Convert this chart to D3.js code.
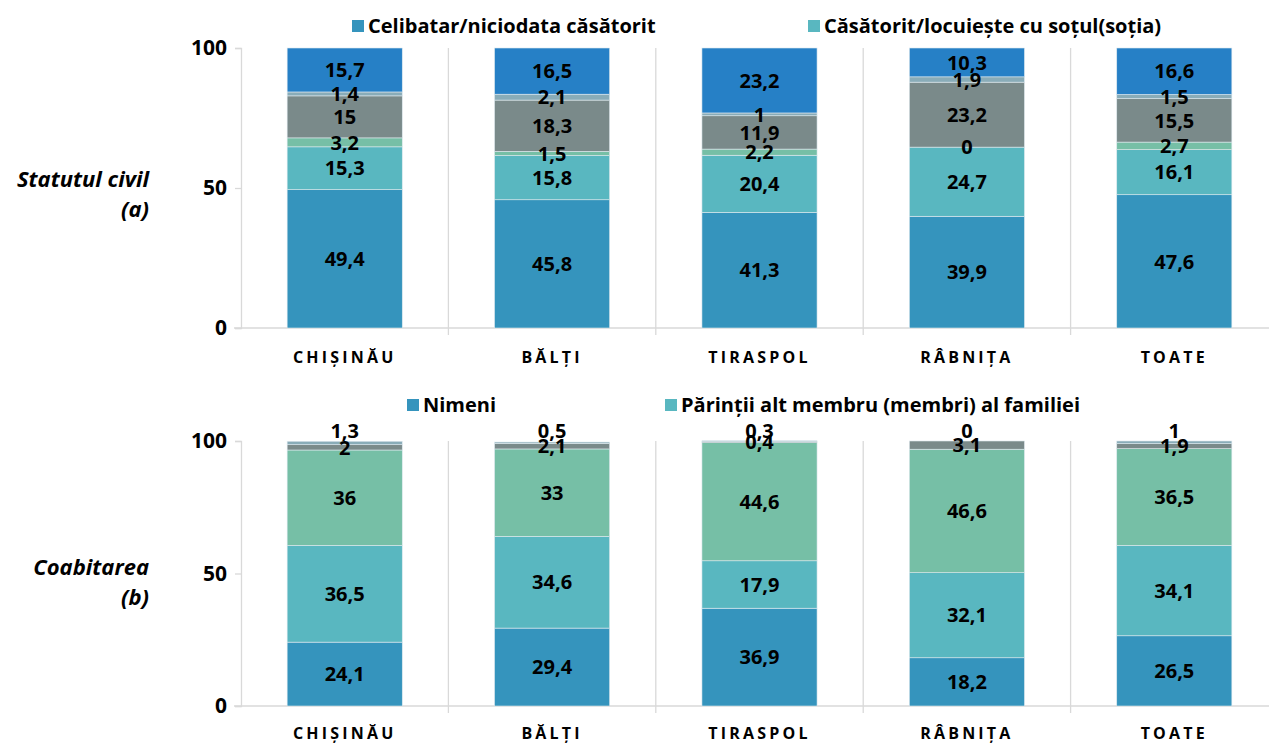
<!DOCTYPE html>
<html>
<head>
<meta charset="utf-8">
<script src="https://cdn.jsdelivr.net/npm/d3@7"></script>
<style>
  body { margin: 0; background: #fff; }
  svg text { font-family: "Open Sans", "Noto Sans", sans-serif; }
</style>
</head>
<body>
<div id="chart"></div>
<script>
const cities = ["CHIȘINĂU", "BĂLȚI", "TIRASPOL", "RÂBNIȚA", "TOATE"];
const yTicks = [0, 50, 100];

// Statutul civil (a), stacked bottom to top
const civilSeries = ["Celibatar/niciodata căsătorit", "Căsătorit/locuiește cu soțul(soția)", "c3", "c4", "c5", "c6"];
const celibatar  = [49.4, 45.8, 41.3, 39.9, 47.6];
const casatorit  = [15.3, 15.8, 20.4, 24.7, 16.1];
const civil3     = [3.2, 1.5, 2.2, 0, 2.7];
const civil4     = [15, 18.3, 11.9, 23.2, 15.5];
const civil5     = [1.4, 2.1, 1, 1.9, 1.5];
const civil6     = [15.7, 16.5, 23.2, 10.3, 16.6];

// Coabitarea (b), stacked bottom to top
const coabSeries = ["Nimeni", "Părinții alt membru (membri) al familiei", "b3", "b4", "b5"];
const nimeni     = [24.1, 29.4, 36.9, 18.2, 26.5];
const parintii   = [36.5, 34.6, 17.9, 32.1, 34.1];
const coab3      = [36, 33, 44.6, 46.6, 36.5];
const coab4      = [2, 2.1, 0.4, 3.1, 1.9];
const coab5      = [1.3, 0.5, 0.3, 0, 1];

const colors6 = ["#3594bd", "#59b7c0", "#76bfa6", "#7a8a8a", "#89acb8", "#2680c6"];
const colors5 = ["#3594bd", "#59b7c0", "#76bfa6", "#7a8a8a", "#89acb8"];

const W = 1269, H = 743;
const svg = d3.select("#chart").append("svg")
    .attr("width", W).attr("height", H);

const x = d3.scaleBand()
    .domain(cities)
    .range([241, 1278])
    .paddingInner(0.445)
    .paddingOuter(0.2225);

function panel(cfg) {
    const y = d3.scaleLinear().domain([0, 100]).range([cfg.y0, cfg.y1]);
    const g = svg.append("g");

    // category separators
    const bounds = cities.slice(1).map(c => x(c) - x.step() * x.paddingInner() / 2);
    g.selectAll("line.sep").data(bounds).enter().append("line")
        .attr("x1", d => d).attr("x2", d => d)
        .attr("y1", y(100)).attr("y2", y(0) + 7)
        .attr("stroke", "#d9d9d9").attr("stroke-width", 1.3);

    // y axis
    const yAxis = g.append("g")
        .attr("transform", "translate(241,0)")
        .call(d3.axisLeft(y).tickValues(yTicks).tickSize(6).tickPadding(8));
    yAxis.select(".domain").attr("stroke", "#d9d9d9").attr("stroke-width", 1.3);
    yAxis.selectAll(".tick line").attr("stroke", "#d9d9d9").attr("stroke-width", 1.3);
    yAxis.selectAll(".tick text")
        .attr("font-size", 21).attr("font-weight", 700).attr("fill", "#000")
        .style("font-family", "'Open Sans', sans-serif");

    // baseline
    g.append("line")
        .attr("x1", 234).attr("x2", W)
        .attr("y1", y(0)).attr("y2", y(0))
        .attr("stroke", "#d9d9d9").attr("stroke-width", 1.3);

    // stacked data
    const rows = cities.map((c, i) => {
        const r = { city: c };
        cfg.keys.forEach((k, j) => r[k] = cfg.values[j][i]);
        return r;
    });
    const stacked = d3.stack().keys(cfg.keys)(rows);

    const layers = g.selectAll("g.layer").data(stacked).enter().append("g")
        .attr("fill", (d, i) => cfg.colors[i]);
    layers.selectAll("rect").data(d => d).enter().append("rect")
        .attr("x", d => x(d.data.city))
        .attr("width", x.bandwidth())
        .attr("y", d => y(d[1]))
        .attr("height", d => y(d[0]) - y(d[1]))
        .attr("stroke", "#dfe9ef").attr("stroke-width", 0.6);

    // value labels
    stacked.forEach((s, i) => {
        g.selectAll(null).data(s).enter().append("text")
            .attr("x", d => x(d.data.city) + x.bandwidth() / 2)
            .attr("y", d => {
                if (cfg.liftLast && i === stacked.length - 1) return y(100) - 10;
                return y((d[0] + d[1]) / 2);
            })
            .attr("dy", "0.36em")
            .attr("text-anchor", "middle")
            .attr("font-size", 20).attr("font-weight", 700).attr("fill", "#000")
            .text(d => String(d.data[s.key]).replace(".", ","));
    });

    // category labels
    g.selectAll("text.cat").data(cities).enter().append("text")
        .attr("x", d => x(d) + x.bandwidth() / 2)
        .attr("y", cfg.catY)
        .attr("text-anchor", "middle")
        .attr("font-size", 16).attr("font-weight", 700)
        .attr("letter-spacing", "3.2px")
        .text(d => d);

    // row title
    const t = g.append("text")
        .attr("text-anchor", "end")
        .attr("font-size", 22).attr("font-weight", 700).attr("font-style", "italic");
    t.append("tspan").attr("x", 149).attr("y", cfg.titleY).text(cfg.title[0]);
    t.append("tspan").attr("x", 149).attr("y", cfg.titleY + 30).text(cfg.title[1]);

    // legend
    cfg.legend.forEach((l, i) => {
        g.append("rect")
            .attr("x", l.x).attr("y", cfg.legendY - 6)
            .attr("width", 12).attr("height", 12)
            .attr("fill", cfg.colors[i]);
        g.append("text")
            .attr("x", l.x + 16).attr("y", cfg.legendY)
            .attr("dy", "0.36em")
            .attr("font-size", 20).attr("font-weight", 700)
            .text(cfg.keys[i]);
    });
}

panel({
    y0: 328, y1: 48,
    keys: civilSeries,
    values: [celibatar, casatorit, civil3, civil4, civil5, civil6],
    colors: colors6,
    catY: 363,
    title: ["Statutul civil", "(a)"],
    titleY: 187,
    legendY: 26,
    legend: [{ x: 352 }, { x: 808 }]
});

panel({
    y0: 706, y1: 441,
    keys: coabSeries,
    values: [nimeni, parintii, coab3, coab4, coab5],
    colors: colors5,
    catY: 739,
    title: ["Coabitarea", "(b)"],
    titleY: 575,
    legendY: 405,
    liftLast: true,
    legend: [{ x: 407 }, { x: 665 }]
});
</script>
</body>
</html>
